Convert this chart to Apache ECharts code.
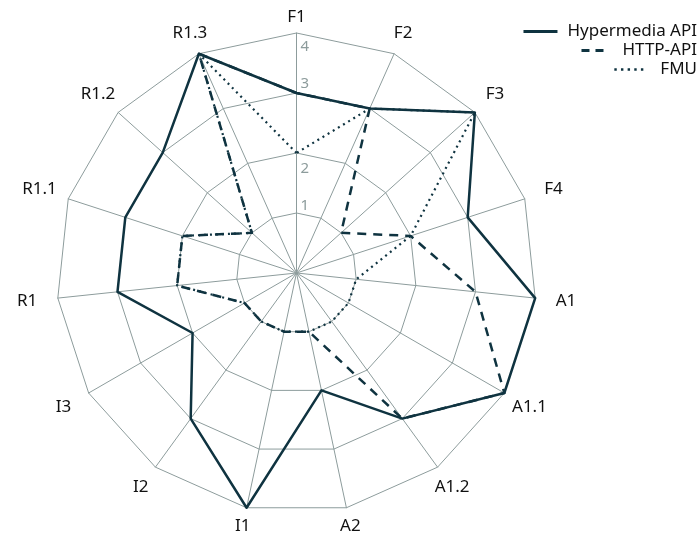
<!DOCTYPE html>
<html lang="en">
<head>
    <meta charset="UTF-8">
    <title>radar</title>
    <script src="https://cdn.jsdelivr.net/npm/echarts@6/dist/echarts.min.js"></script>
    <style>
        html, body { margin: 0; padding: 0; background: #fff; }
        #chart { width: 699px; height: 538px; }
    </style>
</head>
<body>
<div id="chart"></div>
<script type="text/javascript">
    // indicators in clockwise order, starting at the top
    let indicatorNames = ['F1', 'F2', 'F3', 'F4', 'A1', 'A1.1', 'A1.2', 'A2', 'I1', 'I2', 'I3', 'R1', 'R1.1', 'R1.2', 'R1.3'];
    let hypermediaApi = [3, 3, 4, 3, 4, 4, 3, 2, 4, 3, 2, 3, 3, 3, 4];
    let httpApi = [3, 3, 1, 2, 3, 4, 3, 1, 1, 1, 1, 2, 2, 1, 4];
    let fmu = [2, 3, 4, 2, 1, 1, 1, 1, 1, 1, 1, 2, 2, 1, 4];
    let tickLabels = ['1', '2', '3', '4'];
    let maxValue = 4;

    let ink = '#0f3340';
    let gridColor = '#8d9c9c';
    let font = 'Noto Sans';

    // echarts lays out radar indicators counter-clockwise, so flip the order
    function clockwise(arr) {
        return [arr[0]].concat(arr.slice(1).reverse());
    }

    let indicator = clockwise(indicatorNames).map(function (name, i) {
        return {
            name: name,
            min: 0,
            max: maxValue,
            axisLabel: { show: i === 0 }
        };
    });

    // names sit a bit further out at the sides than at top/bottom
    let nameRich = {};
    indicatorNames.forEach(function (name, i) {
        let a = i * 2 * Math.PI / indicatorNames.length;
        let extra = 15 * Math.abs(Math.sin(a));
        let dx = extra * Math.sin(a), dy = -extra * Math.cos(a);
        nameRich['n' + i] = {
            fontSize: 17,
            fontFamily: font,
            color: '#111',
            padding: [Math.max(2 * dy, 0), Math.max(-2 * dx, 0), Math.max(-2 * dy, 0), Math.max(2 * dx, 0)]
        };
    });

    // tick numbers in the reference are nudged off their rings
    let tickRich = {
        t1: { padding: [0, 0, 15, 0] },
        t2: { padding: [31, 0, 0, 0] },
        t3: { padding: [0, 0, 19, 0] },
        t4: { padding: [27, 0, 0, 0] }
    };

    function legendAt(name, top, icon, w, gap) {
        return {
            data: [{ name: name, icon: icon }],
            right: 2,
            top: top,
            padding: 0,
            itemWidth: w,
            itemHeight: 3,
            itemStyle: { color: ink },
            textStyle: { fontFamily: font, fontSize: 17, color: '#111', padding: [0, 0, 0, gap] }
        };
    }

    let option = {
        animation: false,
        legend: [
            legendAt('Hypermedia API', 23, 'path://M0,0H34V3H0Z', 34, 5),
            legendAt('HTTP-API', 42, 'path://M0,0H8V3H0Z M14,0H22V3H14Z', 22, 14),
            legendAt('FMU', 61, 'path://M0,0H2.4V2.4H0Z M6.6,0H9V2.4H6.6Z M13.2,0H15.6V2.4H13.2Z M19.8,0H22.2V2.4H19.8Z M26.4,0H28.8V2.4H26.4Z', 29, 12)
        ],
        radar: {
            center: [296.5, 273],
            radius: 240,
            startAngle: 90,
            splitNumber: 4,
            shape: 'polygon',
            indicator: indicator,
            axisName: {
                color: '#111',
                fontSize: 17,
                fontFamily: font,
                align: 'center',
                verticalAlign: 'middle',
                formatter: function (name) {
                    return '{n' + indicatorNames.indexOf(name) + '|' + name + '}';
                },
                rich: nameRich
            },
            nameGap: 16,
            axisLine: { lineStyle: { color: gridColor, width: 1 } },
            splitLine: { lineStyle: { color: gridColor, width: 1 } },
            splitArea: { show: false },
            axisTick: { show: false },
            axisLabel: {
                color: gridColor,
                fontSize: 15,
                fontFamily: font,
                margin: -4,
                align: 'left',
                verticalAlign: 'middle',
                formatter: function (v) {
                    return v > 0 ? '{t' + v + '|' + tickLabels[v - 1] + '}' : '';
                },
                rich: tickRich
            }
        },
        series: [{
            type: 'radar',
            symbol: 'none',
            data: [
                {
                    name: 'Hypermedia API',
                    value: clockwise(hypermediaApi),
                    lineStyle: { color: ink, width: 2.5, type: 'solid' }
                },
                {
                    name: 'HTTP-API',
                    value: clockwise(httpApi),
                    lineStyle: { color: ink, width: 2.5, type: [9, 7] }
                },
                {
                    name: 'FMU',
                    value: clockwise(fmu),
                    lineStyle: { color: ink, width: 2.2, type: [2, 4] }
                }
            ]
        }]
    };

    let myChart = echarts.init(document.getElementById('chart'));
    myChart.setOption(option);
</script>
</body>
</html>
